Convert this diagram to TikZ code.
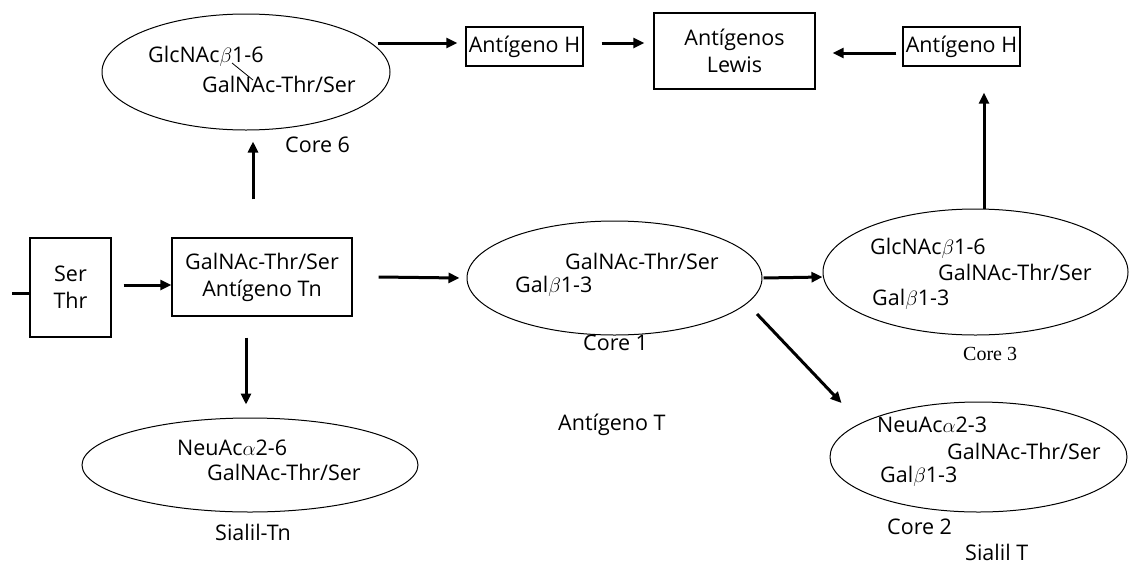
\documentclass[tikz,border=0pt]{standalone}
\usepackage{fontspec}
\setmainfont{Open Sans}
\newfontfamily\seriff{Liberation Serif}
\usetikzlibrary{arrows.meta,shapes.geometric,calc}
\begin{document}
\begin{tikzpicture}[x=1pt,y=-1pt,
  box/.style={draw,line width=1.3pt,inner sep=0pt,align=center,font=\fontsize{21.5}{27}\selectfont},
  oval/.style={draw,ellipse,line width=1pt,inner sep=0pt},
  lbl/.style={inner sep=0pt,anchor=mid west,font=\fontsize{21.5}{25}\selectfont},
  slbl/.style={inner sep=0pt,anchor=mid west,font=\fontsize{20}{24}\seriff},
  arr/.style={line width=3pt,-{Triangle[length=11pt,width=10pt]}},
  ]
\useasboundingbox[fill=white] (0,0) rectangle (1129,568);

% boxes
\node[box,minimum width=81,minimum height=99] (st) at (70.5,287.5) {Ser\\Thr};
\node[box,minimum width=180,minimum height=78] (tn) at (262,277) {GalNAc-Thr/Ser\\Antígeno Tn};
\node[box,minimum width=117,minimum height=39] (hL) at (524.5,46.5) {Antígeno H};
\node[box,minimum width=161,minimum height=76] (lw) at (734.5,51) {Antígenos\\Lewis};
\node[box,minimum width=117,minimum height=39] (hR) at (961.5,46.5) {Antígeno H};

% ellipses
\node[oval,minimum width=288,minimum height=116] (c6) at (246,72) {};
\node[oval,minimum width=295,minimum height=114] (c1) at (614.5,278) {};
\node[oval,minimum width=305,minimum height=126] (c3) at (975.5,272) {};
\node[oval,minimum width=297,minimum height=110] (c2) at (978.5,457) {};
\node[oval,minimum width=336,minimum height=94] (sTn) at (250,465) {};

% texts in ellipses
\node[lbl] (c6a) at (148,60) {GlcNAc$\beta$1-6};
\node[lbl] (c6b) at (202,90) {GalNAc-Thr/Ser};
\draw[line width=0.8pt] (232,63) -- (253,80);
\node[lbl] (c6l) at (285,150) {Core 6};

\node[lbl] (c1a) at (565,267) {GalNAc-Thr/Ser};
\node[lbl] (c1b) at (515,290) {Gal$\beta$1-3};
\node[lbl] (c1l) at (583,348) {Core 1};
\node[lbl] (tT) at (558,428) {Antígeno T};

\node[lbl] (c3a) at (870,252) {GlcNAc$\beta$1-6};
\node[lbl] (c3b) at (938,278) {GalNAc-Thr/Ser};
\node[lbl] (c3c) at (872,303) {Gal$\beta$1-3};
\node[slbl] (c3l) at (963,358) {Core 3};

\node[lbl] (c2a) at (877,430) {NeuAc$\alpha$2-3};
\node[lbl] (c2b) at (947,457) {GalNAc-Thr/Ser};
\node[lbl] (c2c) at (880,480) {Gal$\beta$1-3};
\node[lbl] (c2l) at (887,532) {Core 2};
\node[lbl] (sT) at (965,558) {Sialil T};

\node[lbl] (sa) at (177,453) {NeuAc$\alpha$2-6};
\node[lbl] (sb) at (207,478) {GalNAc-Thr/Ser};
\node[lbl] (sl) at (215,538) {Sialil-Tn};

% connectors
\coordinate (stub) at (12,293);
\draw[line width=3pt] (stub) -- (stub -| st.west);
\draw[arr] ($(st.east)+(12,-2.5)$) -- ($(tn.west)+(0,8)$);
\draw[arr] ($(tn.north)+(-9,-38)$) -- ($(c6.south)+(7,11)$);
\draw[arr] ($(tn.south)+(-16,21)$) -- ($(sTn.north)+(-4,-13)$);
\draw[arr] ($(tn.east)+(26,0)$) -- ($(c1.west)+(-7,0)$);
\draw[arr] ($(c6.east)+(-13,-29)$) -- ($(hL.west)+(-8,-3.5)$);
\draw[arr] ($(hL.east)+(18,-3.5)$) -- ($(lw.west)+(-9,-8)$);
\draw[arr] ($(hR.west)+(-6,6.5)$) -- ($(lw.east)+(17,2)$);
\draw[arr] ($(c3.north)+(8.5,0)$) -- ($(hR.south)+(22.5,26)$);
\draw[arr] ($(c1.east)+(1,0)$) -- ($(c3.west)+(0,5)$);
\draw[arr] ($(c1.center)+(142.5,36)$) -- ($(c2.center)+(-137,-54)$);
\end{tikzpicture}
\end{document}
